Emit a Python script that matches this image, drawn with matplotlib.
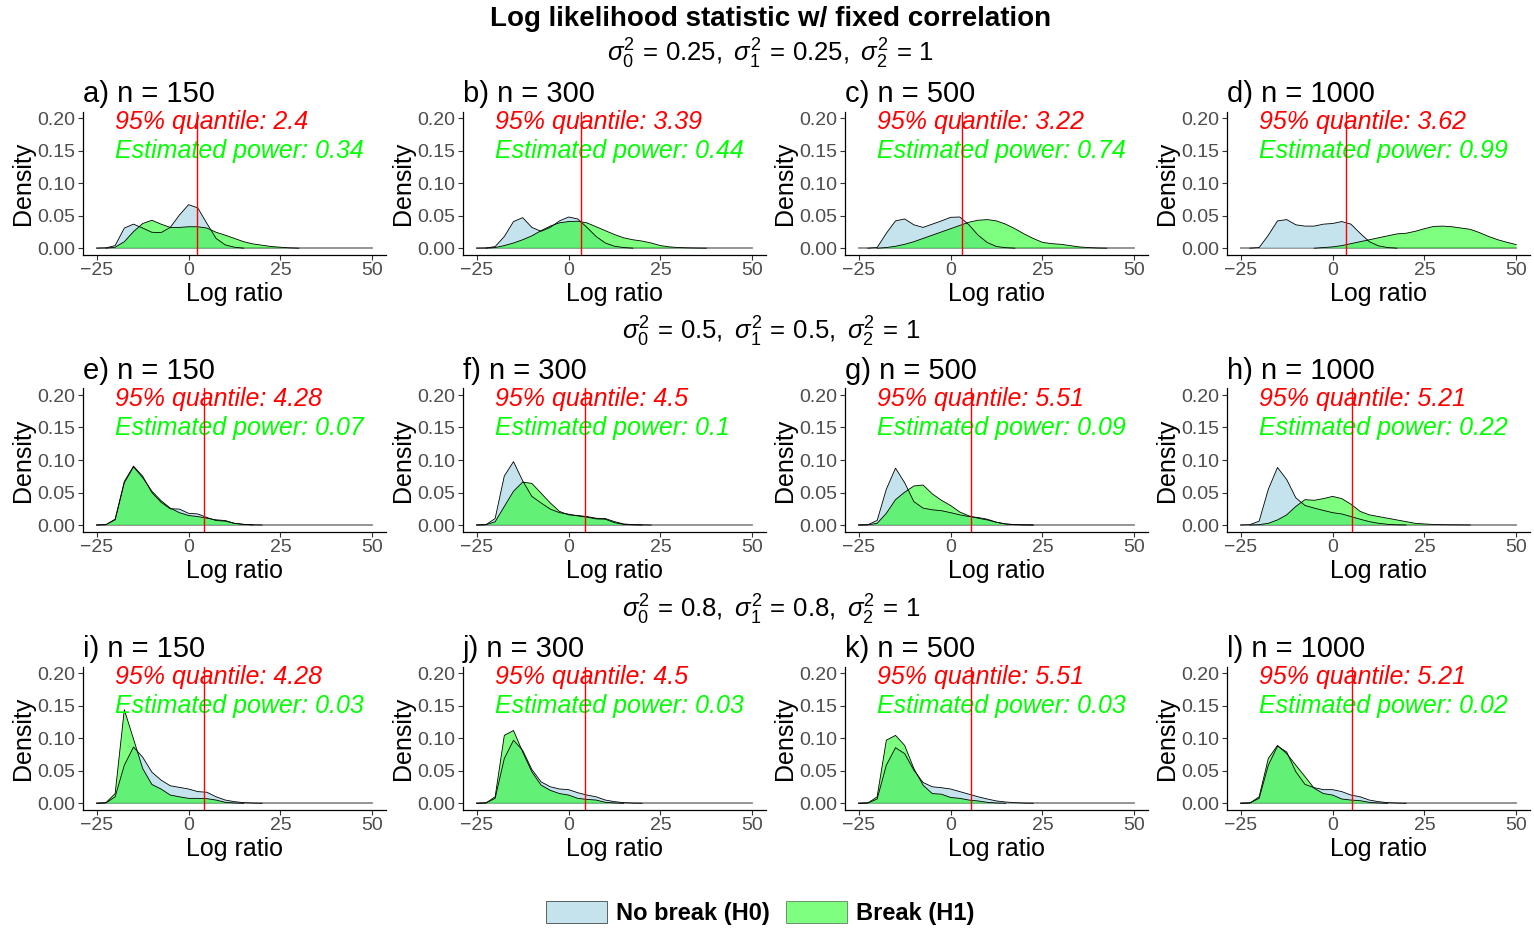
import numpy as np
import matplotlib
matplotlib.use("Agg")
import matplotlib.pyplot as plt
from matplotlib.patches import Patch

plt.rcParams['font.family'] = ['Liberation Sans', 'DejaVu Sans']
plt.rcParams['mathtext.fontset'] = 'custom'
plt.rcParams['mathtext.rm'] = 'Liberation Sans'
plt.rcParams['mathtext.it'] = 'Liberation Sans:italic'
plt.rcParams['mathtext.sf'] = 'Liberation Sans'

# ---------------- data ----------------
x_grid = [-25, -22.5, -20, -17.5, -15, -12.5, -10, -7.5, -5, -2.5, 0, 2.5, 5, 7.5, 10,
          12.5, 15, 17.5, 20, 22.5, 25, 27.5, 30, 32.5, 35, 37.5, 40, 42.5, 45, 47.5, 50]

panel_labels = ["a) n = 150", "b) n = 300", "c) n = 500", "d) n = 1000",
                "e) n = 150", "f) n = 300", "g) n = 500", "h) n = 1000",
                "i) n = 150", "j) n = 300", "k) n = 500", "l) n = 1000"]
quantiles = [2.4, 3.39, 3.22, 3.62, 4.28, 4.5, 5.51, 5.21, 4.28, 4.5, 5.51, 5.21]
powers = ["0.34", "0.44", "0.74", "0.99", "0.07", "0.1", "0.09", "0.22", "0.03", "0.03", "0.03", "0.02"]
row_subtitles = [r"$\sigma_0^2\,=\,0.25,\ \sigma_1^2\,=\,0.25,\ \sigma_2^2\,=\,1$",
                 r"$\sigma_0^2\,=\,0.5,\ \sigma_1^2\,=\,0.5,\ \sigma_2^2\,=\,1$",
                 r"$\sigma_0^2\,=\,0.8,\ \sigma_1^2\,=\,0.8,\ \sigma_2^2\,=\,1$"]

a_h0 = [0, 0.0005, 0.004, 0.031, 0.037, 0.031, 0.0245, 0.024, 0.032, 0.051, 0.067, 0.062, 0.038, 0.015, 0.005, 0.0015, 0, 0, 0, 0, 0, 0, 0, 0, 0, 0, 0, 0, 0, 0, 0]
a_h1 = [0, 0, 0.0015, 0.010, 0.0255, 0.038, 0.043, 0.037, 0.032, 0.032, 0.033, 0.033, 0.031, 0.0245, 0.020, 0.015, 0.010, 0.0066, 0.0046, 0.0026, 0.0015, 0.0005, 0, 0, 0, 0, 0, 0, 0, 0, 0]
b_h0 = [0, 0.0003, 0.0025, 0.018, 0.041, 0.047, 0.032, 0.026, 0.032, 0.042, 0.048, 0.045, 0.032, 0.018, 0.008, 0.003, 0.001, 0, 0, 0, 0, 0, 0, 0, 0, 0, 0, 0, 0, 0, 0]
b_h1 = [0, 0, 0.001, 0.004, 0.008, 0.013, 0.019, 0.027, 0.034, 0.039, 0.041, 0.0415, 0.039, 0.033, 0.027, 0.021, 0.016, 0.013, 0.011, 0.008, 0.004, 0.002, 0.001, 0.0005, 0.0002, 0, 0, 0, 0, 0, 0]
c_h0 = [0, 0, 0.001, 0.023, 0.042, 0.045, 0.036, 0.032, 0.037, 0.042, 0.0475, 0.048, 0.036, 0.020, 0.0087, 0.0026, 0.0008, 0, 0, 0, 0, 0, 0, 0, 0, 0, 0, 0, 0, 0, 0]
c_h1 = [0, 0, 0, 0.001, 0.003, 0.006, 0.010, 0.015, 0.020, 0.025, 0.030, 0.035, 0.040, 0.043, 0.044, 0.042, 0.037, 0.030, 0.022, 0.015, 0.009, 0.007, 0.006, 0.004, 0.002, 0.001, 0.0003, 0, 0, 0, 0]
d_h0 = [0, 0, 0.001, 0.020, 0.042, 0.044, 0.036, 0.034, 0.034, 0.037, 0.038, 0.041, 0.037, 0.023, 0.010, 0.0036, 0.001, 0, 0, 0, 0, 0, 0, 0, 0, 0, 0, 0, 0, 0, 0]
d_h1 = [0, 0, 0, 0, 0, 0, 0, 0, 0, 0.001, 0.002, 0.004, 0.007, 0.010, 0.013, 0.016, 0.019, 0.022, 0.023, 0.026, 0.030, 0.0335, 0.034, 0.033, 0.031, 0.029, 0.024, 0.018, 0.013, 0.009, 0.0055]
e_h0 = [0, 0.0005, 0.009, 0.067, 0.0905, 0.075, 0.050, 0.035, 0.025, 0.0245, 0.018, 0.017, 0.0115, 0.0068, 0.006, 0.0025, 0.001, 0, 0, 0, 0, 0, 0, 0, 0, 0, 0, 0, 0, 0, 0]
e_h1 = [0, 0.0005, 0.008, 0.065, 0.0895, 0.073, 0.052, 0.0375, 0.026, 0.019, 0.0146, 0.013, 0.0104, 0.008, 0.0068, 0.0026, 0.001, 0.0003, 0, 0, 0, 0, 0, 0, 0, 0, 0, 0, 0, 0, 0]
f_h0 = [0, 0.0005, 0.010, 0.0755, 0.0975, 0.068, 0.044, 0.034, 0.0245, 0.019, 0.0167, 0.014, 0.012, 0.0094, 0.0089, 0.0036, 0.001, 0.0003, 0, 0, 0, 0, 0, 0, 0, 0, 0, 0, 0, 0, 0]
f_h1 = [0, 0.0003, 0.005, 0.0286, 0.052, 0.066, 0.064, 0.049, 0.034, 0.021, 0.0156, 0.0146, 0.013, 0.0104, 0.0099, 0.0052, 0.0016, 0.0005, 0.0002, 0, 0, 0, 0, 0, 0, 0, 0, 0, 0, 0, 0]
g_h0 = [0, 0.0005, 0.007, 0.055, 0.0875, 0.065, 0.036, 0.026, 0.0234, 0.022, 0.019, 0.0156, 0.013, 0.0115, 0.0089, 0.0042, 0.0016, 0.0005, 0.0002, 0, 0, 0, 0, 0, 0, 0, 0, 0, 0, 0, 0]
g_h1 = [0, 0.0002, 0.0026, 0.018, 0.039, 0.0505, 0.060, 0.0615, 0.048, 0.038, 0.030, 0.020, 0.014, 0.0104, 0.0078, 0.0042, 0.0016, 0.0006, 0.0002, 0, 0, 0, 0, 0, 0, 0, 0, 0, 0, 0, 0]
h_h0 = [0, 0.0005, 0.006, 0.055, 0.0885, 0.070, 0.0417, 0.030, 0.026, 0.0224, 0.019, 0.017, 0.013, 0.0089, 0.0052, 0.0026, 0.001, 0.0003, 0, 0, 0, 0, 0, 0, 0, 0, 0, 0, 0, 0, 0]
h_h1 = [0, 0, 0.0005, 0.0026, 0.0078, 0.0156, 0.0286, 0.039, 0.038, 0.0406, 0.044, 0.0406, 0.032, 0.021, 0.0156, 0.013, 0.0104, 0.0078, 0.0052, 0.0026, 0.0016, 0.0008, 0.0005, 0.0003, 0.0002, 0, 0, 0, 0, 0, 0]
i_h0 = [0, 0.0005, 0.010, 0.0586, 0.0866, 0.071, 0.048, 0.0357, 0.027, 0.0245, 0.022, 0.018, 0.017, 0.010, 0.005, 0.0025, 0.001, 0.0003, 0, 0, 0, 0, 0, 0, 0, 0, 0, 0, 0, 0, 0]
i_h1 = [0, 0.001, 0.015, 0.144, 0.099, 0.0535, 0.029, 0.022, 0.0127, 0.010, 0.0076, 0.0076, 0.0071, 0.005, 0.0015, 0.0005, 0, 0, 0, 0, 0, 0, 0, 0, 0, 0, 0, 0, 0, 0, 0]
j_h0 = [0, 0.0005, 0.0076, 0.069, 0.097, 0.0815, 0.052, 0.033, 0.0255, 0.022, 0.021, 0.0163, 0.0127, 0.010, 0.005, 0.0025, 0.001, 0.0003, 0, 0, 0, 0, 0, 0, 0, 0, 0, 0, 0, 0, 0]
j_h1 = [0, 0.0005, 0.010, 0.1045, 0.112, 0.079, 0.0485, 0.028, 0.020, 0.015, 0.0127, 0.0076, 0.006, 0.005, 0.0015, 0.0005, 0, 0, 0, 0, 0, 0, 0, 0, 0, 0, 0, 0, 0, 0, 0]
k_h0 = [0, 0.0005, 0.0066, 0.0586, 0.0856, 0.0764, 0.051, 0.032, 0.0255, 0.024, 0.022, 0.018, 0.014, 0.010, 0.0066, 0.0036, 0.002, 0.001, 0.0003, 0, 0, 0, 0, 0, 0, 0, 0, 0, 0, 0, 0]
k_h1 = [0, 0.0005, 0.010, 0.097, 0.1045, 0.089, 0.0535, 0.028, 0.015, 0.014, 0.009, 0.0076, 0.005, 0.0036, 0.0015, 0.0005, 0, 0, 0, 0, 0, 0, 0, 0, 0, 0, 0, 0, 0, 0, 0]
l_h0 = [0, 0.0005, 0.0076, 0.0586, 0.088, 0.079, 0.0485, 0.029, 0.024, 0.021, 0.021, 0.018, 0.0127, 0.010, 0.005, 0.0025, 0.001, 0.0003, 0, 0, 0, 0, 0, 0, 0, 0, 0, 0, 0, 0, 0]
l_h1 = [0, 0.0005, 0.010, 0.069, 0.089, 0.0764, 0.0586, 0.041, 0.023, 0.015, 0.0127, 0.0066, 0.005, 0.004, 0.0015, 0.0005, 0, 0, 0, 0, 0, 0, 0, 0, 0, 0, 0, 0, 0, 0, 0]

h0_series = [a_h0, b_h0, c_h0, d_h0, e_h0, f_h0, g_h0, h_h0, i_h0, j_h0, k_h0, l_h0]
h1_series = [a_h1, b_h1, c_h1, d_h1, e_h1, f_h1, g_h1, h_h1, i_h1, j_h1, k_h1, l_h1]

x_ticks = [-25, 0, 25, 50]
y_ticks = [0.00, 0.05, 0.10, 0.15, 0.20]
y_tick_labels = ["0.00", "0.05", "0.10", "0.15", "0.20"]
legend_labels = ["No break (H0)", "Break (H1)"]

# ---------------- style ----------------
W, H = 1534, 930
fig = plt.figure(figsize=(W / 100, H / 100), dpi=100)

col_left = [83, 463, 845, 1227]
ax_w = 303
row_top = [111.7, 388.5, 666.8]
ax_h = 143

BLUE = "#ADD8E6"
GREEN = "#00FF00"
tick_col = "#4D4D4D"


def draw_density(ax, x, y, color, alpha):
    x = np.asarray(x, float)
    y = np.asarray(y, float)
    nz = np.nonzero(y)[0]
    i0 = max(nz[0] - 1, 0)
    i1 = min(nz[-1] + 1, len(y) - 1)
    xs, ys = x[i0:i1 + 1], y[i0:i1 + 1]
    ax.fill_between(xs, 0, ys, facecolor=color, alpha=alpha, linewidth=0)
    ax.plot(xs, ys, color="black", lw=0.6)


for k in range(12):
    r, c = divmod(k, 4)
    left = col_left[c] / W
    bottom = 1 - (row_top[r] + ax_h) / H
    ax = fig.add_axes([left, bottom, ax_w / W, ax_h / H])

    ax.plot([-25, 50], [0, 0], color="#8c8c8c", lw=1.3, zorder=1)
    draw_density(ax, x_grid, h0_series[k], BLUE, 0.7)
    draw_density(ax, x_grid, h1_series[k], GREEN, 0.5)
    ax.axvline(quantiles[k], color="red", lw=1.0, zorder=5)

    ax.text(-20, 0.194, f"95% quantile: {quantiles[k]}", color="red", fontstyle="italic",
            fontsize=18, ha="left", va="center")
    ax.text(-20, 0.150, f"Estimated power: {powers[k]}", color=GREEN, fontstyle="italic",
            fontsize=18, ha="left", va="center")

    ax.set_xlim(-28.75, 53.75)
    ax.set_ylim(-0.01, 0.21)
    ax.set_xticks(x_ticks)
    ax.set_yticks(y_ticks)
    ax.set_yticklabels(y_tick_labels)
    ax.tick_params(axis="both", labelsize=14, labelcolor=tick_col, color="#333333",
                   length=3.5, width=0.8, pad=2)
    for s in ["top", "right"]:
        ax.spines[s].set_visible(False)
    for s in ["left", "bottom"]:
        ax.spines[s].set_color("black")
        ax.spines[s].set_linewidth(0.9)
    ax.set_xlabel("Log ratio", fontsize=18, labelpad=2)
    ax.set_ylabel("Density", fontsize=18, labelpad=2)
    ax.set_title(panel_labels[k], loc="left", fontsize=21, pad=7)
    ax.set_facecolor("none")

fig.text(771 / W, 1 - 19 / H, "Log likelihood statistic w/ fixed correlation",
         ha="center", va="center", fontsize=20, fontweight="bold")
for r, yy in enumerate([54, 332, 610]):
    fig.text(771 / W, 1 - yy / H, row_subtitles[r], ha="center", va="center", fontsize=18.5)

handles = [Patch(facecolor=BLUE, alpha=0.7, edgecolor="black", linewidth=0.6),
           Patch(facecolor=GREEN, alpha=0.5, edgecolor="black", linewidth=0.6)]
leg = fig.legend(handles, legend_labels, loc="center", bbox_to_anchor=(760 / W, 1 - 913 / H),
                 ncol=2, frameon=False, handlelength=2.6, handleheight=1.1,
                 handletextpad=0.35, columnspacing=0.7, prop={"weight": "bold", "size": 17})

fig.savefig("out.png", dpi=100)
